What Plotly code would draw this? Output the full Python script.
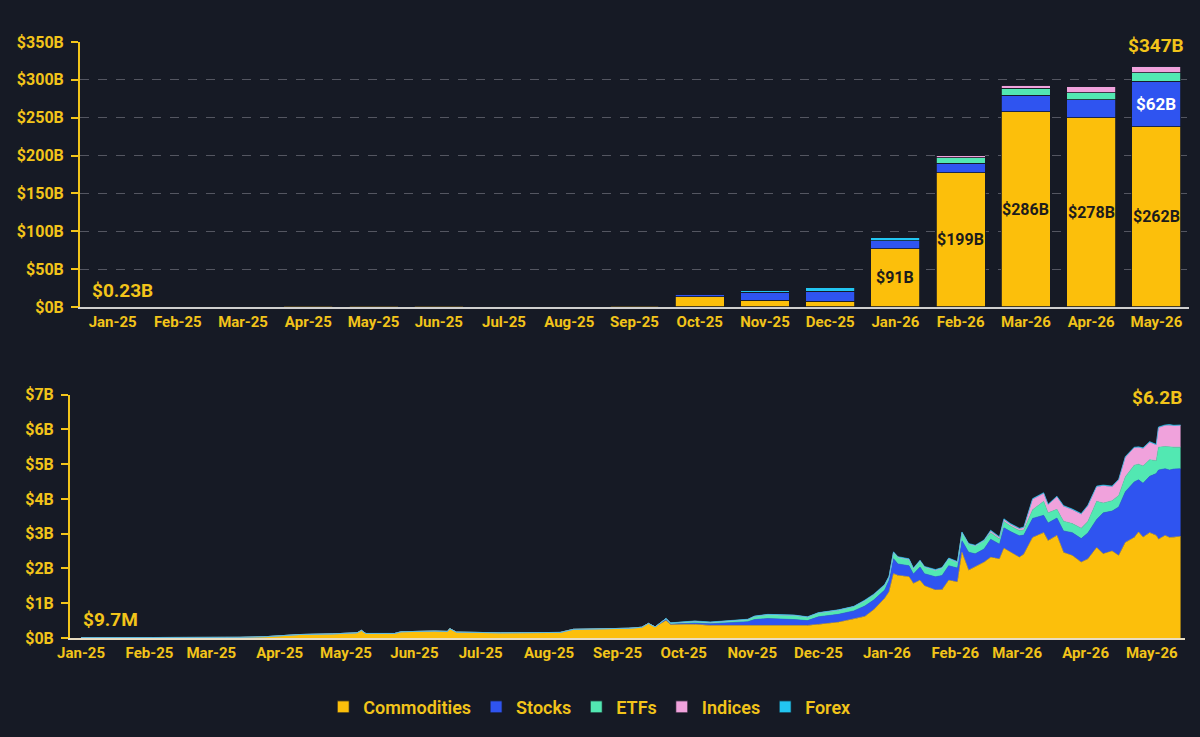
import plotly.graph_objects as go

# ---------------- Top chart: monthly volume ----------------
months = ["Jan-25", "Feb-25", "Mar-25", "Apr-25", "May-25", "Jun-25", "Jul-25", "Aug-25",
          "Sep-25", "Oct-25", "Nov-25", "Dec-25", "Jan-26", "Feb-26", "Mar-26", "Apr-26", "May-26"]
bar_commodities = [0.2, 0.3, 0.4, 2.2, 2.2, 2.4, 1.0, 1.0, 2.2, 13.4, 8.7, 7.8, 76.8, 177, 258, 250, 238]
bar_stocks      = [0, 0, 0, 0, 0, 0, 0.4, 0.2, 0.3, 3.0, 10.7, 12.6, 10.5, 13, 22, 24, 60]
bar_etfs        = [0, 0, 0, 0, 0, 0, 0.1, 0, 0, 0.3, 0.3, 0.5, 0.5, 7, 8.7, 8.7, 11.7]
bar_indices     = [0, 0, 0, 0, 0, 0, 0, 0, 0, 0, 0, 0, 0, 2.6, 4.3, 8.7, 7.8]
bar_forex       = [0, 0, 0, 0, 0, 0, 0.1, 0, 0, 0.3, 1.7, 4.7, 3.5, 0.4, 0.4, 0.4, 0.5]

top_tick_values = [0, 50, 100, 150, 200, 250, 300, 350]
top_tick_labels = ["$0B", "$50B", "$100B", "$150B", "$200B", "$250B", "$300B", "$350B"]

label_months = ["Jan-26", "Feb-26", "Mar-26", "Apr-26", "May-26"]
label_texts = ["$91B", "$199B", "$286B", "$278B", "$262B"]
stocks_label_month = "May-26"
stocks_label_text = "$62B"
first_bar_label = "$0.23B"
last_bar_label = "$347B"

# ---------------- Bottom chart: daily open interest ----------------
dates = ["2025-01-01", "2025-02-01", "2025-02-27", "2025-03-14", "2025-03-26", "2025-04-10",
         "2025-04-25", "2025-05-06", "2025-05-08", "2025-05-10", "2025-05-23", "2025-05-26",
         "2025-06-10", "2025-06-16", "2025-06-17", "2025-06-20", "2025-07-10", "2025-07-25",
         "2025-08-06", "2025-08-12", "2025-08-21", "2025-09-06", "2025-09-12", "2025-09-15",
         "2025-09-18", "2025-09-23", "2025-09-25", "2025-10-06", "2025-10-13", "2025-10-21",
         "2025-10-30", "2025-11-02", "2025-11-08", "2025-11-20", "2025-11-26", "2025-12-01",
         "2025-12-10", "2025-12-17", "2025-12-22", "2025-12-26", "2025-12-31", "2026-01-02",
         "2026-01-04", "2026-01-06", "2026-01-11", "2026-01-13", "2026-01-16", "2026-01-18",
         "2026-01-23", "2026-01-26", "2026-01-29", "2026-02-02", "2026-02-04", "2026-02-07",
         "2026-02-10", "2026-02-14", "2026-02-17", "2026-02-21", "2026-02-23", "2026-02-26",
         "2026-03-02", "2026-03-04", "2026-03-08", "2026-03-13", "2026-03-15", "2026-03-19",
         "2026-03-22", "2026-03-26", "2026-03-30", "2026-04-02", "2026-04-06", "2026-04-09",
         "2026-04-13", "2026-04-16", "2026-04-19", "2026-04-23", "2026-04-25", "2026-04-27",
         "2026-04-30", "2026-05-03", "2026-05-04", "2026-05-07", "2026-05-09", "2026-05-11",
         "2026-05-14"]
oi_commodities = [0.0097, 0.010, 0.015, 0.02, 0.04, 0.10,
                  0.12, 0.15, 0.22, 0.13, 0.13, 0.18,
                  0.20, 0.19, 0.27, 0.17, 0.15, 0.15,
                  0.16, 0.25, 0.26, 0.28, 0.31, 0.42,
                  0.32, 0.50, 0.39, 0.39, 0.36, 0.36,
                  0.37, 0.37, 0.36, 0.35, 0.36, 0.39,
                  0.45, 0.55, 0.62, 0.81, 1.14, 1.33,
                  1.85, 1.80, 1.76, 1.57, 1.66, 1.50,
                  1.38, 1.39, 1.66, 1.61, 2.46, 1.95,
                  2.04, 2.18, 2.32, 2.27, 2.58, 2.46,
                  2.32, 2.41, 2.89, 3.03, 2.80, 2.95,
                  2.46, 2.37, 2.18, 2.27, 2.60, 2.42,
                  2.50, 2.37, 2.75, 2.89, 3.05, 2.90,
                  3.03, 2.95, 2.84, 2.95, 2.89, 2.90,
                  2.92]
oi_stocks = [0, 0, 0, 0, 0, 0,
             0, 0, 0, 0, 0, 0,
             0, 0, 0, 0, 0, 0,
             0, 0, 0, 0, 0, 0,
             0, 0.04, 0.01, 0.04, 0.05, 0.07,
             0.10, 0.16, 0.20, 0.18, 0.14, 0.22,
             0.23, 0.23, 0.30, 0.28, 0.24, 0.33,
             0.43, 0.33, 0.32, 0.27, 0.38, 0.35,
             0.38, 0.41, 0.42, 0.40, 0.34, 0.52,
             0.38, 0.38, 0.52, 0.43, 0.59, 0.60,
             0.62, 0.55, 0.55, 0.50, 0.51, 0.50,
             0.62, 0.66, 0.68, 0.75, 0.81, 1.18,
             1.15, 1.40, 1.46, 1.60, 1.50, 1.55,
             1.62, 1.78, 1.99, 1.92, 1.94, 1.96,
             1.95]
oi_etfs = [0, 0, 0, 0, 0, 0,
           0, 0, 0, 0, 0, 0,
           0, 0, 0, 0, 0, 0,
           0, 0, 0, 0, 0, 0,
           0, 0.02, 0.03, 0.05, 0.04, 0.05,
           0.06, 0.09, 0.11, 0.12, 0.10, 0.11,
           0.12, 0.12, 0.15, 0.15, 0.14, 0.10,
           0.18, 0.19, 0.18, 0.15, 0.18, 0.19,
           0.19, 0.21, 0.20, 0.17, 0.23, 0.23,
           0.23, 0.24, 0.19, 0.15, 0.18, 0.16,
           0.15, 0.15, 0.25, 0.40, 0.29, 0.25,
           0.28, 0.26, 0.30, 0.33, 0.52, 0.28,
           0.30, 0.33, 0.43, 0.48, 0.45, 0.50,
           0.48, 0.37, 0.66, 0.64, 0.66, 0.63,
           0.62]
oi_indices = [0, 0, 0, 0, 0, 0,
              0, 0, 0, 0, 0, 0,
              0, 0, 0, 0, 0, 0,
              0, 0, 0, 0, 0, 0,
              0, 0, 0, 0, 0, 0,
              0, 0, 0, 0, 0, 0,
              0, 0, 0, 0, 0, 0,
              0, 0, 0, 0, 0, 0,
              0, 0, 0, 0, 0, 0,
              0, 0, 0.05, 0.04, 0.06, 0.05,
              0.05, 0.06, 0.30, 0.23, 0.23, 0.36,
              0.43, 0.40, 0.40, 0.45, 0.42, 0.50,
              0.40, 0.45, 0.56, 0.50, 0.48, 0.50,
              0.50, 0.45, 0.56, 0.60, 0.63, 0.61,
              0.62]
oi_forex = [0, 0, 0, 0, 0, 0,
            0, 0, 0, 0, 0, 0,
            0, 0, 0, 0, 0, 0,
            0, 0, 0, 0, 0, 0,
            0, 0.005, 0.005, 0.01, 0.01, 0.01,
            0.01, 0.01, 0.01, 0.01, 0.01, 0.01,
            0.01, 0.01, 0.02, 0.02, 0.02, 0.02,
            0.02, 0.02, 0.02, 0.02, 0.02, 0.02,
            0.02, 0.02, 0.02, 0.02, 0.02, 0.02,
            0.02, 0.02, 0.02, 0.02, 0.02, 0.02,
            0.02, 0.02, 0.02, 0.02, 0.02, 0.02,
            0.02, 0.02, 0.02, 0.02, 0.02, 0.02,
            0.02, 0.02, 0.02, 0.02, 0.02, 0.02,
            0.02, 0.02, 0.02, 0.02, 0.02, 0.02,
            0.02]

bottom_tick_values = [0, 1, 2, 3, 4, 5, 6, 7]
bottom_tick_labels = ["$0B", "$1B", "$2B", "$3B", "$4B", "$5B", "$6B", "$7B"]
first_oi_label = "$9.7M"
last_oi_label = "$6.2B"

series_names = ["Commodities", "Stocks", "ETFs", "Indices", "Forex"]
colors = ["#fcbf0b", "#2f54f0", "#52e8b2", "#f0a2dc", "#22c6f2"]

BG = "#161a25"
GOLD = "#f2c41a"
FONT = "Roboto"

bar_series = [bar_commodities, bar_stocks, bar_etfs, bar_indices, bar_forex]
oi_series = [oi_commodities, oi_stocks, oi_etfs, oi_indices, oi_forex]

fig = go.Figure()

for name, vals, col in zip(series_names, bar_series, colors):
    fig.add_trace(go.Bar(
        x=months, y=vals, name=name, marker=dict(color=col, line=dict(color=BG, width=0.8)),
        xaxis="x", yaxis="y", showlegend=True, legendgroup=name,
    ))

for name, vals, col in zip(series_names, oi_series, colors):
    fig.add_trace(go.Scatter(
        x=dates, y=vals, name=name, mode="lines", stackgroup="oi",
        line=dict(color=col, width=0.6), fillcolor=col,
        xaxis="x2", yaxis="y2", showlegend=False, legendgroup=name,
    ))

annotations = []
for m, t in zip(label_months, label_texts):
    i = months.index(m)
    annotations.append(dict(
        x=m, y=bar_commodities[i] / 2, xref="x", yref="y", text=t, showarrow=False,
        font=dict(family=FONT, size=16, color="#1c1c1c", weight=700),
    ))
j = months.index(stocks_label_month)
annotations.append(dict(
    x=stocks_label_month, y=bar_commodities[j] + bar_stocks[j] / 2, xref="x", yref="y",
    text=stocks_label_text, showarrow=False,
    font=dict(family=FONT, size=17, color="#ffffff", weight=700),
))
annotations.append(dict(
    x=-0.35, y=bar_commodities[0], xref="x", yref="y", text=first_bar_label, showarrow=False,
    xanchor="left", yanchor="bottom", yshift=3,
    font=dict(family=FONT, size=19, color=GOLD, weight=700),
))
top_total = sum(s[-1] for s in bar_series)
annotations.append(dict(
    x=months[-1], y=top_total, xref="x", yref="y", text=last_bar_label, showarrow=False,
    xanchor="center", yanchor="bottom", yshift=7,
    font=dict(family=FONT, size=19, color=GOLD, weight=700),
))
annotations.append(dict(
    x=dates[0], y=0, xref="x2", yref="y2", text=first_oi_label, showarrow=False,
    xanchor="left", yanchor="bottom", yshift=5,
    font=dict(family=FONT, size=19, color=GOLD, weight=700),
))
oi_total = sum(s[-1] for s in oi_series)
annotations.append(dict(
    x=dates[-1], y=oi_total, xref="x2", yref="y2", text=last_oi_label, showarrow=False,
    xanchor="right", yanchor="bottom", yshift=14, xshift=3,
    font=dict(family=FONT, size=19, color=GOLD, weight=700),
))

tickfont = dict(family=FONT, size=15, color=GOLD, weight=700)
ytickfont = dict(family=FONT, size=16, color=GOLD, weight=700)

fig.update_layout(
    width=1200, height=737,
    paper_bgcolor=BG, plot_bgcolor=BG,
    margin=dict(l=70, r=11, t=42, b=90),
    barmode="stack", bargap=0.25,
    font=dict(family=FONT, color=GOLD),
    annotations=annotations,
    legend=dict(
        orientation="h", x=0.464, xanchor="center", y=-0.085, yanchor="top",
        font=dict(family=FONT, size=18, color=GOLD, weight=600),
        bgcolor="rgba(0,0,0,0)", itemwidth=30, tracegroupgap=0,
    ),
    xaxis=dict(
        domain=[10 / 1119, 1], type="category", showgrid=False, zeroline=False,
        showline=True, linecolor="#cfcfcf", linewidth=2, ticks="", tickfont=tickfont,
        anchor="y",
    ),
    yaxis=dict(
        domain=[0.5554, 1], range=[0, 350], tickmode="array",
        tickvals=top_tick_values, ticktext=top_tick_labels, tickfont=ytickfont,
        showgrid=True, gridcolor="rgba(200,200,210,0.35)", griddash="dash", gridwidth=1,
        zeroline=False, showline=True, linecolor=GOLD, linewidth=2,
        ticks="outside", ticklen=7, tickwidth=2, tickcolor=GOLD, anchor="x",
        ticklabelstandoff=4,
    ),
    xaxis2=dict(
        domain=[0, 0.9964], type="date", range=["2024-12-27", "2026-05-16"],
        tick0="2025-01-01", dtick="M1", tickformat="%b-%y", tickfont=tickfont,
        showgrid=False, zeroline=False, showline=True, linecolor="#e8dcc0", linewidth=2,
        ticks="", anchor="y2",
    ),
    yaxis2=dict(
        domain=[0, 0.4083], range=[0, 7], tickmode="array",
        tickvals=bottom_tick_values, ticktext=bottom_tick_labels, tickfont=ytickfont,
        showgrid=False, zeroline=False, showline=True, linecolor=GOLD, linewidth=2,
        ticks="outside", ticklen=7, tickwidth=2, tickcolor=GOLD, anchor="x2",
        ticklabelstandoff=4,
    ),
)

fig.write_html("out.html")
